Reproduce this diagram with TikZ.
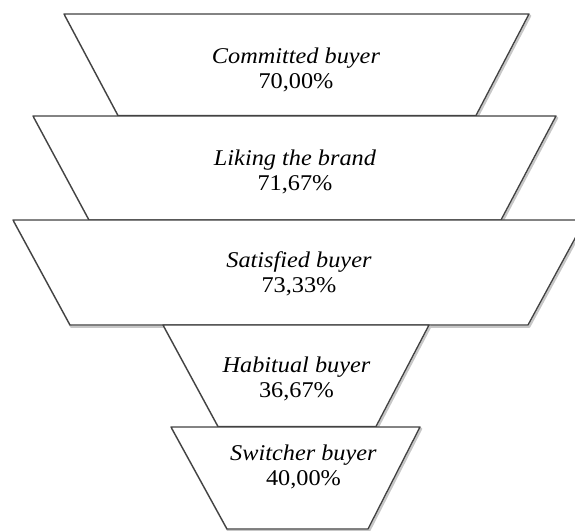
\documentclass[tikz,border=0pt]{standalone}
\usepackage{fontspec}
\setmainfont{Liberation Serif}[FakeStretch=1.08]
\tikzset{
  funnelpart/.style={draw=black!74, line width=1.35pt, fill=white, line join=round},
  funnelshade/.style={draw=black!22, line width=2.2pt, line join=round},
  lbl/.style={align=center, inner sep=0pt, font=\fontsize{22.5}{24.5}\selectfont}
}
\newcommand\funnelseg[6]{%
  \draw[funnelshade] (#2+1.2,-#1-1.8) -- (#3+1.2,-#1-1.8) -- (#6+1.2,-#4-1.8) -- (#5+1.2,-#4-1.8) -- cycle;
  \draw[funnelpart] (#2,-#1) -- (#3,-#1) -- (#6,-#4) -- (#5,-#4) -- cycle;
}
\begin{document}
\begin{tikzpicture}[x=1pt,y=1pt]
  \useasboundingbox (0,0) rectangle (575,-530);
  \clip (0,0) rectangle (575,-530);
  \funnelseg{14}{64}{529}{115.5}{118}{476}
  \funnelseg{116}{33}{556}{220}{89}{501}
  \funnelseg{220}{13}{585}{325}{70}{528}
  \funnelseg{325}{163}{429}{426.5}{218}{376}
  \funnelseg{427}{171}{420}{529}{227}{368}
  \node[lbl] (committed) at (296,-70) {\textit{Committed buyer}\\70,00\%};
  \node[lbl] (liking) at (295,-172) {\textit{Liking the brand}\\71,67\%};
  \node[lbl] (satisfied) at (299,-274) {\textit{Satisfied buyer}\\73,33\%};
  \node[lbl] (habitual) at (296.5,-379) {\textit{Habitual buyer}\\36,67\%};
  \node[lbl] (switcher) at (303.5,-467) {\textit{Switcher buyer}\\40,00\%};
\end{tikzpicture}
\end{document}
